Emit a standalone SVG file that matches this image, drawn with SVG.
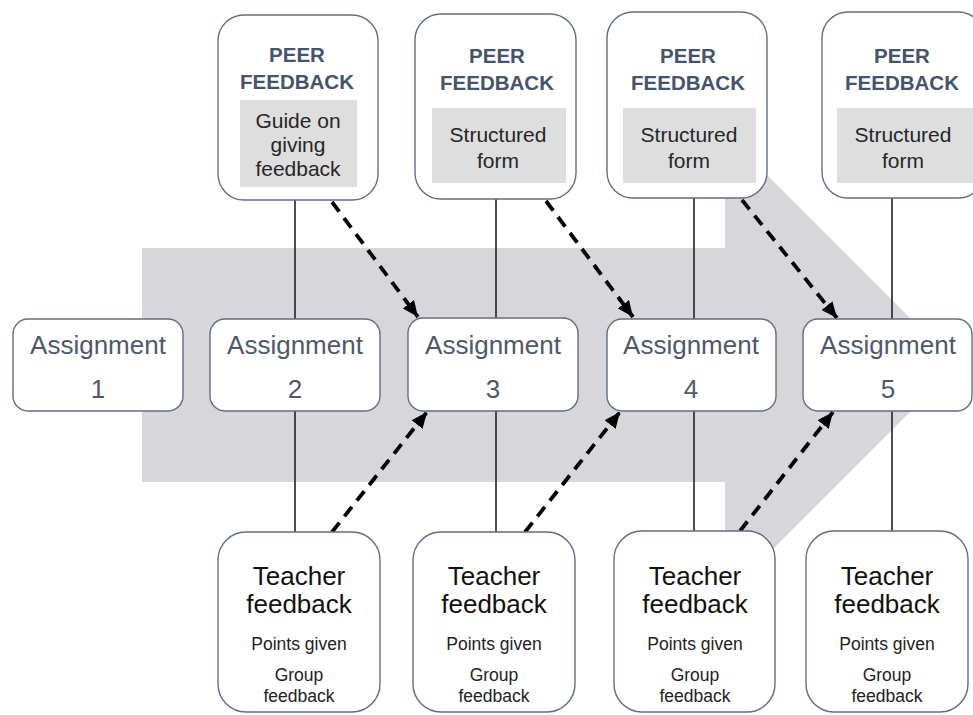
<svg xmlns="http://www.w3.org/2000/svg" width="973" height="715" viewBox="0 0 973 715">
<style>
.node{fill:#ffffff;stroke:#5f6e82;stroke-width:1.4}
.inner{fill:#dedede}
.t{font-family:"Liberation Sans",Arial,sans-serif;text-anchor:middle}
.title{font-size:20.5px;font-weight:bold;fill:#44546a}
.sub{font-size:21px;fill:#262626}
.asg{font-size:26px;fill:#4d596b}
.tch{font-size:26px;fill:#111111}
.sm{font-size:17.5px;fill:#222222}
.solid{stroke:#222222;stroke-width:1.6;fill:none}
.dash{stroke:#000000;stroke-width:3.8;stroke-dasharray:12 8;fill:none}
</style>
<defs>
<marker id="ah" markerUnits="userSpaceOnUse" markerWidth="16" markerHeight="14" refX="16" refY="7" orient="auto">
<path d="M0,0 L16,7 L0,14 z" fill="#000000"/>
</marker>
</defs>
<rect width="973" height="715" fill="#ffffff"/>
<polygon id="bigArrow" points="142,248 725,248 725,133 957,365 725,597 725,482 142,482" fill="#d6d6db"/>
<g id="connectors">
<line class="solid" x1="295" y1="198" x2="295" y2="533"/>
<line class="solid" x1="496" y1="198" x2="496" y2="533"/>
<line class="solid" x1="694" y1="196" x2="694" y2="533"/>
<line class="solid" x1="892" y1="196" x2="892" y2="533"/>
<line class="dash" x1="332" y1="202" x2="418" y2="317" marker-end="url(#ah)"/>
<line class="dash" x1="546" y1="201" x2="633" y2="317" marker-end="url(#ah)"/>
<line class="dash" x1="742" y1="200" x2="837" y2="318" marker-end="url(#ah)"/>
<line class="dash" x1="332" y1="532" x2="427" y2="412" marker-end="url(#ah)"/>
<line class="dash" x1="525" y1="532" x2="620" y2="412" marker-end="url(#ah)"/>
<line class="dash" x1="740" y1="531" x2="833" y2="412" marker-end="url(#ah)"/>
</g>
<g id="peer1">
<rect class="node" x="218" y="15" width="160" height="185" rx="26"/>
<rect class="inner" x="240" y="100" width="117" height="87"/>
<text class="t title" x="297" y="62">PEER</text>
<text class="t title" x="297" y="89">FEEDBACK</text>
<text class="t sub" x="298" y="128">Guide on</text>
<text class="t sub" x="298" y="152">giving</text>
<text class="t sub" x="298" y="176">feedback</text>
</g>
<g id="peer2">
<rect class="node" x="415" y="14" width="161" height="185" rx="26"/>
<rect class="inner" x="432" y="108" width="134" height="75"/>
<text class="t title" x="497" y="63">PEER</text>
<text class="t title" x="497" y="90">FEEDBACK</text>
<text class="t sub" x="498" y="142">Structured</text>
<text class="t sub" x="498" y="168">form</text>
</g>
<g id="peer3">
<rect class="node" x="607" y="12" width="160" height="186" rx="26"/>
<rect class="inner" x="623" y="108" width="133" height="75"/>
<text class="t title" x="688" y="63">PEER</text>
<text class="t title" x="688" y="90">FEEDBACK</text>
<text class="t sub" x="689" y="142">Structured</text>
<text class="t sub" x="689" y="168">form</text>
</g>
<g id="peer4">
<rect class="node" x="822" y="12" width="162" height="186" rx="26"/>
<rect class="inner" x="837" y="108" width="140" height="75"/>
<text class="t title" x="902" y="63">PEER</text>
<text class="t title" x="902" y="90">FEEDBACK</text>
<text class="t sub" x="903" y="142">Structured</text>
<text class="t sub" x="903" y="168">form</text>
</g>
<g id="assignment1">
<rect class="node" x="13" y="319" width="170" height="92" rx="15"/>
<text class="t asg" x="98" y="354">Assignment</text>
<text class="t asg" x="98" y="398">1</text>
</g>
<g id="assignment2">
<rect class="node" x="210" y="319" width="170" height="92" rx="15"/>
<text class="t asg" x="295" y="354">Assignment</text>
<text class="t asg" x="295" y="398">2</text>
</g>
<g id="assignment3">
<rect class="node" x="408" y="318" width="170" height="93" rx="15"/>
<text class="t asg" x="493" y="354">Assignment</text>
<text class="t asg" x="493" y="398">3</text>
</g>
<g id="assignment4">
<rect class="node" x="607" y="319" width="169" height="92" rx="15"/>
<text class="t asg" x="691" y="354">Assignment</text>
<text class="t asg" x="691" y="398">4</text>
</g>
<g id="assignment5">
<rect class="node" x="803" y="319" width="169" height="92" rx="15"/>
<text class="t asg" x="888" y="354">Assignment</text>
<text class="t asg" x="888" y="398">5</text>
</g>
<g id="teacher1">
<rect class="node" x="218" y="532" width="162" height="180" rx="28"/>
<text class="t tch" x="299" y="585">Teacher</text>
<text class="t tch" x="299" y="613">feedback</text>
<text class="t sm" x="299" y="650">Points given</text>
<text class="t sm" x="299" y="681">Group</text>
<text class="t sm" x="299" y="702">feedback</text>
</g>
<g id="teacher2">
<rect class="node" x="413" y="532" width="162" height="180" rx="28"/>
<text class="t tch" x="494" y="585">Teacher</text>
<text class="t tch" x="494" y="613">feedback</text>
<text class="t sm" x="494" y="650">Points given</text>
<text class="t sm" x="494" y="681">Group</text>
<text class="t sm" x="494" y="702">feedback</text>
</g>
<g id="teacher3">
<rect class="node" x="614" y="531" width="161" height="181" rx="28"/>
<text class="t tch" x="695" y="585">Teacher</text>
<text class="t tch" x="695" y="613">feedback</text>
<text class="t sm" x="695" y="650">Points given</text>
<text class="t sm" x="695" y="681">Group</text>
<text class="t sm" x="695" y="702">feedback</text>
</g>
<g id="teacher4">
<rect class="node" x="806" y="531" width="162" height="181" rx="28"/>
<text class="t tch" x="887" y="585">Teacher</text>
<text class="t tch" x="887" y="613">feedback</text>
<text class="t sm" x="887" y="650">Points given</text>
<text class="t sm" x="887" y="681">Group</text>
<text class="t sm" x="887" y="702">feedback</text>
</g>
</svg>
